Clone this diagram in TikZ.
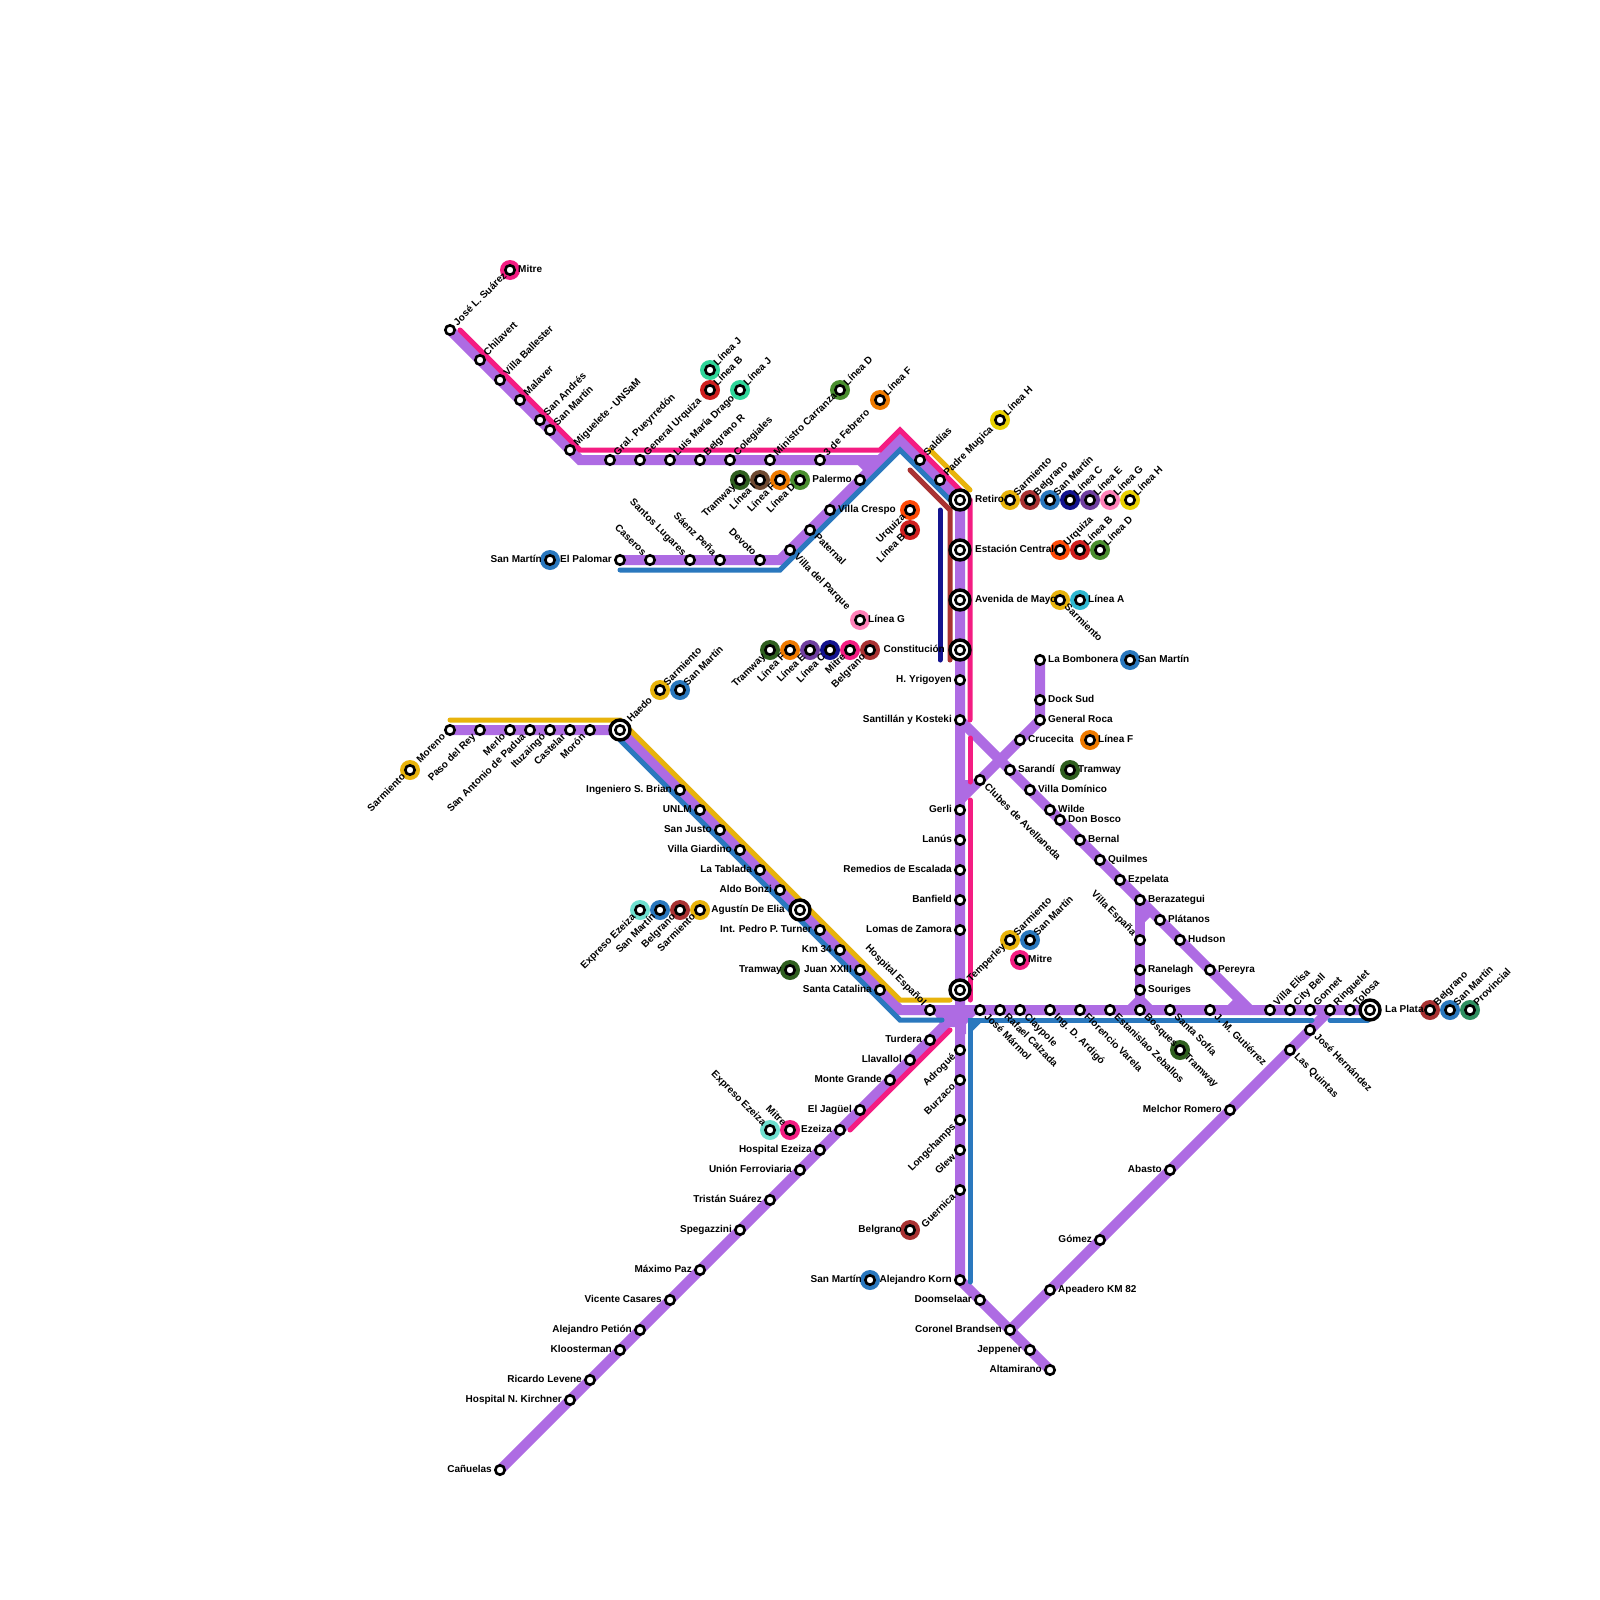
\documentclass[tikz,border=0pt]{standalone}
\usepackage{fontspec}
\setmainfont{Liberation Sans}
\usetikzlibrary{calc}
\definecolor{cPur}{HTML}{AE6BE3}
\definecolor{cPink}{HTML}{F41C82}
\definecolor{cBlue}{HTML}{2A78BE}
\definecolor{cYel}{HTML}{E8B30C}
\definecolor{cBel}{HTML}{A93232}
\definecolor{cNavy}{HTML}{14148F}
\definecolor{cJ}{HTML}{2FD69A}
\definecolor{cB}{HTML}{D01F1F}
\definecolor{cD}{HTML}{4A8F2F}
\definecolor{cF}{HTML}{EE7A00}
\definecolor{cH}{HTML}{E8D000}
\definecolor{cTr}{HTML}{2F5F1F}
\definecolor{cI}{HTML}{6F4A32}
\definecolor{cU}{HTML}{FF4A08}
\definecolor{cG}{HTML}{FF80B8}
\definecolor{cE}{HTML}{6F3FA0}
\definecolor{cA}{HTML}{30B8D0}
\definecolor{cX}{HTML}{6FE0D0}
\definecolor{cP}{HTML}{2F8F60}
\pgfdeclarelayer{lines}
\pgfdeclarelayer{discs}
\pgfdeclarelayer{labs}
\pgfsetlayers{lines,discs,labs,main}
\tikzset{
  stn/.style={circle,draw=black,fill=white,line width=2.6pt,minimum size=9.4pt,inner sep=0pt},
  big/.style={circle,draw=black,fill=white,line width=3.4pt,minimum size=20pt,inner sep=0pt},
  xd/.style={circle,fill=#1,minimum size=20pt,inner sep=0pt},
  lab/.style={inner sep=0pt,font=\fontsize{10}{12}\selectfont\bfseries,text height=7.2pt,text depth=2pt},
  R/.style={lab,anchor=west,xshift=8pt},
  L/.style={lab,anchor=east,xshift=-8pt},
  NE/.style={lab,anchor=west,rotate=45,xshift=8pt},
  SW/.style={lab,anchor=east,rotate=45,xshift=-8pt},
  SE/.style={lab,anchor=west,rotate=-45,xshift=8pt},
  NW/.style={lab,anchor=east,rotate=-45,xshift=-8pt},
  BR/.style={lab,anchor=west,xshift=15pt},
  BL/.style={lab,anchor=east,xshift=-15pt},
  BNE/.style={lab,anchor=west,rotate=45,xshift=13pt},
  thick line/.style={line width=10pt,cPur,line join=miter,line cap=round},
  thin line/.style={line width=5pt,line join=miter,line cap=round},
}
% station: name, x, y, label style, text
\newcommand{\St}[5]{\node[stn] (#1) at (#2,#3) {};\begin{pgfonlayer}{labs}\node[#4] (#1-t) at (#2,#3) {#5};\end{pgfonlayer}}
% big station
\newcommand{\Bg}[5]{\node[big] (#1-o) at (#2,#3) {};\node[stn] (#1) at (#2,#3) {};\begin{pgfonlayer}{labs}\node[#4] (#1-t) at (#2,#3) {#5};\end{pgfonlayer}}
% interchange: colour, name, x, y, label style, text
\newcommand{\Xc}[6]{\begin{pgfonlayer}{discs}\node[xd=#1] (#2-d) at (#3,#4) {};\end{pgfonlayer}\node[stn] (#2) at (#3,#4) {};\begin{pgfonlayer}{labs}\node[#5] (#2-t) at (#3,#4) {#6};\end{pgfonlayer}}
\begin{document}
\begin{tikzpicture}[x=1pt,y=-1pt]
\useasboundingbox (0,0) rectangle (1600,1600);
\begin{pgfonlayer}{lines}
\fill[white] (0,0) rectangle (1600,1600);
\end{pgfonlayer}
% --- north-west
\St{suarez}{450}{330}{NE}{José L. Suárez}
\St{chila}{480}{360}{NE}{Chilavert}
\St{balle}{500}{380}{NE}{Villa Ballester}
\St{malav}{520}{400}{NE}{Malaver}
\St{sandr}{540}{420}{NE}{San Andrés}
\St{smart}{550}{430}{NE}{San Martín}
\St{migue}{570}{450}{NE}{Miguelete - UNSaM}
\St{pueyr}{610}{460}{NE}{Gral. Pueyrredón}
\St{urqz}{640}{460}{NE}{General Urquiza}
\St{drago}{670}{460}{NE}{Luis María Drago}
\St{belr}{700}{460}{NE}{Belgrano R}
\St{coleg}{730}{460}{NE}{Colegiales}
\St{carr}{770}{460}{NE}{Ministro Carranza}
\St{feb}{820}{460}{NE}{3 de Febrero}
\St{saldi}{920}{460}{NE}{Saldías}
\St{mugi}{940}{480}{NE}{Padre Mugica}
\Xc{cPink}{xmit1}{510}{270}{R}{Mitre}
\Xc{cJ}{xj1}{710}{370}{NE}{Línea J}
\Xc{cB}{xb1}{710}{390}{NE}{Línea B}
\Xc{cJ}{xj2}{740}{390}{NE}{Línea J}
\Xc{cD}{xd1}{840}{390}{NE}{Línea D}
\Xc{cF}{xf1}{880}{400}{NE}{Línea F}
\Xc{cH}{xh1}{1000}{420}{NE}{Línea H}
\Xc{cTr}{xt1}{740}{480}{SW}{Tramway}
\Xc{cI}{xi1}{760}{480}{SW}{Línea I}
\Xc{cF}{xf2}{780}{480}{SW}{Línea F}
\Xc{cD}{xd2}{800}{480}{SW}{Línea D}
\St{paler}{860}{480}{L}{Palermo}
\St{cresp}{830}{510}{R}{Villa Crespo}
\St{pater}{810}{530}{SE}{Paternal}
\St{vparq}{790}{550}{SE}{Villa del Parque}
\St{devot}{760}{560}{NW}{Devoto}
\St{saenz}{720}{560}{NW}{Sáenz Peña}
\St{santl}{690}{560}{NW}{Santos Lugares}
\St{caser}{650}{560}{NW}{Caseros}
\St{palom}{620}{560}{L}{El Palomar}
\Xc{cBlue}{xsm1}{550}{560}{L}{San Martín}
\Xc{cU}{xu1}{910}{510}{SW}{Urquiza}
\Xc{cB}{xb2}{910}{530}{SW}{Línea B}
% --- central
\Bg{retiro}{960}{500}{BR}{Retiro}
\Xc{cYel}{xs1}{1010}{500}{NE}{Sarmiento}
\Xc{cBel}{xbe1}{1030}{500}{NE}{Belgrano}
\Xc{cBlue}{xsm2}{1050}{500}{NE}{San Martín}
\Xc{cNavy}{xc1}{1070}{500}{NE}{Línea C}
\Xc{cE}{xe1}{1090}{500}{NE}{Línea E}
\Xc{cG}{xg1}{1110}{500}{NE}{Línea G}
\Xc{cH}{xh2}{1130}{500}{NE}{Línea H}
\Bg{centr}{960}{550}{BR}{Estación Central}
\Xc{cU}{xu2}{1060}{550}{NE}{Urquiza}
\Xc{cB}{xb3}{1080}{550}{NE}{Línea B}
\Xc{cD}{xd3}{1100}{550}{NE}{Línea D}
\Bg{mayo}{960}{600}{BR}{Avenida de Mayo}
\Xc{cYel}{xs2}{1060}{600}{SE}{Sarmiento}
\Xc{cA}{xa1}{1080}{600}{R}{Línea A}
\Xc{cG}{xg2}{860}{620}{R}{Línea G}
\Bg{const}{960}{650}{BL}{Constitución}
\Xc{cTr}{xt2}{770}{650}{SW}{Tramway}
\Xc{cF}{xf3}{790}{650}{SW}{Línea F}
\Xc{cE}{xe2}{810}{650}{SW}{Línea E}
\Xc{cNavy}{xc2}{830}{650}{SW}{Línea C}
\Xc{cPink}{xmit2}{850}{650}{SW}{Mitre}
\Xc{cBel}{xbe2}{870}{650}{SW}{Belgrano}
\St{yrig}{960}{680}{L}{H. Yrigoyen}
\St{kost}{960}{720}{L}{Santillán y Kosteki}
\St{gerli}{960}{810}{L}{Gerli}
\St{lanus}{960}{840}{L}{Lanús}
\St{remed}{960}{870}{L}{Remedios de Escalada}
\St{banf}{960}{900}{L}{Banfield}
\St{lomas}{960}{930}{L}{Lomas de Zamora}
\Bg{temp}{960}{990}{BNE}{Temperley}
\Xc{cYel}{xs3}{1010}{940}{NE}{Sarmiento}
\Xc{cBlue}{xsm3}{1030}{940}{NE}{San Martín}
\Xc{cPink}{xmit3}{1020}{960}{R}{Mitre}
% --- south-east diagonal
\St{bomb}{1040}{660}{R}{La Bombonera}
\Xc{cBlue}{xsm4}{1130}{660}{R}{San Martín}
\St{dock}{1040}{700}{R}{Dock Sud}
\St{roca}{1040}{720}{R}{General Roca}
\St{cruc}{1020}{740}{R}{Crucecita}
\Xc{cF}{xf4}{1090}{740}{R}{Línea F}
\St{saran}{1010}{770}{R}{Sarandí}
\Xc{cTr}{xt3}{1070}{770}{R}{Tramway}
\St{clube}{980}{780}{SE}{Clubes de Avellaneda}
\St{domin}{1030}{790}{R}{Villa Domínico}
\St{wilde}{1050}{810}{R}{Wilde}
\St{bosco}{1060}{820}{R}{Don Bosco}
\St{bernal}{1080}{840}{R}{Bernal}
\St{quilm}{1100}{860}{R}{Quilmes}
\St{ezpel}{1120}{880}{R}{Ezpelata}
\St{beraz}{1140}{900}{R}{Berazategui}
\St{plata}{1160}{920}{R}{Plátanos}
\St{hudso}{1180}{940}{R}{Hudson}
\St{perey}{1210}{970}{R}{Pereyra}
\St{vesp}{1140}{940}{NW}{Villa España}
\St{ranel}{1140}{970}{R}{Ranelagh}
\St{souri}{1140}{990}{R}{Souriges}
% --- y=1010 row
\St{hesp}{930}{1010}{NW}{Hospital Español}
\St{marm}{980}{1010}{SE}{José Mármol}
\St{calz}{1000}{1010}{SE}{Rafael Calzada}
\St{clayp}{1020}{1010}{SE}{Claypole}
\St{ardig}{1050}{1010}{SE}{Ing. D. Ardigó}
\St{varel}{1080}{1010}{SE}{Florencio Varela}
\St{zebal}{1110}{1010}{SE}{Estanislao Zeballos}
\St{bosq}{1140}{1010}{SE}{Bosques}
\St{sofia}{1170}{1010}{SE}{Santa Sofía}
\St{gutie}{1210}{1010}{SE}{J. M. Gutiérrez}
\St{elisa}{1270}{1010}{NE}{Villa Elisa}
\St{city}{1290}{1010}{NE}{City Bell}
\St{gonn}{1310}{1010}{NE}{Gonnet}
\St{ringu}{1330}{1010}{NE}{Ringuelet}
\St{tolos}{1350}{1010}{NE}{Tolosa}
\Bg{lplat}{1370}{1010}{BR}{La Plata}
\Xc{cBel}{xbe3}{1430}{1010}{NE}{Belgrano}
\Xc{cBlue}{xsm5}{1450}{1010}{NE}{San Martín}
\Xc{cP}{xp1}{1470}{1010}{NE}{Provincial}
\Xc{cTr}{xt4}{1180}{1050}{SE}{Tramway}
\St{herna}{1310}{1030}{SE}{José Hernández}
\St{quint}{1290}{1050}{SE}{Las Quintas}
\St{melch}{1230}{1110}{L}{Melchor Romero}
\St{abast}{1170}{1170}{L}{Abasto}
\St{gomez}{1100}{1240}{L}{Gómez}
\St{apead}{1050}{1290}{R}{Apeadero KM 82}
\St{brand}{1010}{1330}{L}{Coronel Brandsen}
\St{jepp}{1030}{1350}{L}{Jeppener}
\St{altam}{1050}{1370}{L}{Altamirano}
\St{dooms}{980}{1300}{L}{Doomselaar}
\St{korn}{960}{1280}{L}{Alejandro Korn}
\Xc{cBlue}{xsm6}{870}{1280}{L}{San Martín}
\Xc{cBel}{xbe4}{910}{1230}{L}{Belgrano}
\St{guern}{960}{1190}{SW}{Guernica}
\St{glew}{960}{1150}{SW}{Glew}
\St{longc}{960}{1120}{SW}{Longchamps}
\St{burza}{960}{1080}{SW}{Burzaco}
\St{adrog}{960}{1050}{SW}{Adrogué}
% --- south-west diagonal
\St{turd}{930}{1040}{L}{Turdera}
\St{llav}{910}{1060}{L}{Llavallol}
\St{mgran}{890}{1080}{L}{Monte Grande}
\St{jague}{860}{1110}{L}{El Jagüel}
\St{ezeiz}{840}{1130}{L}{Ezeiza}
\Xc{cPink}{xmit4}{790}{1130}{NW}{Mitre}
\Xc{cX}{xx1}{770}{1130}{NW}{Expreso Ezeiza}
\St{hezei}{820}{1150}{L}{Hospital Ezeiza}
\St{unio}{800}{1170}{L}{Unión Ferroviaria}
\St{trist}{770}{1200}{L}{Tristán Suárez}
\St{spega}{740}{1230}{L}{Spegazzini}
\St{maxim}{700}{1270}{L}{Máximo Paz}
\St{vicen}{670}{1300}{L}{Vicente Casares}
\St{petio}{640}{1330}{L}{Alejandro Petión}
\St{kloos}{620}{1350}{L}{Kloosterman}
\St{leven}{590}{1380}{L}{Ricardo Levene}
\St{kirch}{570}{1400}{L}{Hospital N. Kirchner}
\St{canue}{500}{1470}{L}{Cañuelas}
% --- west
\St{moren}{450}{730}{SW}{Moreno}
\St{prey}{480}{730}{SW}{Paso del Rey}
\St{merlo}{510}{730}{SW}{Merlo}
\St{padua}{530}{730}{SW}{San Antonio de Padua}
\St{ituz}{550}{730}{SW}{Ituzaingó}
\St{caste}{570}{730}{SW}{Castelar}
\St{moron}{590}{730}{SW}{Morón}
\Bg{haedo}{620}{730}{BNE}{Haedo}
\Xc{cYel}{xs4}{410}{770}{SW}{Sarmiento}
\Xc{cYel}{xs5}{660}{690}{NE}{Sarmiento}
\Xc{cBlue}{xsm7}{680}{690}{NE}{San Martín}
\St{brian}{680}{790}{L}{Ingeniero S. Brian}
\St{unlm}{700}{810}{L}{UNLM}
\St{justo}{720}{830}{L}{San Justo}
\St{giard}{740}{850}{L}{Villa Giardino}
\St{tabla}{760}{870}{L}{La Tablada}
\St{bonzi}{780}{890}{L}{Aldo Bonzi}
\Bg{elia}{800}{910}{BL}{Agustín De Elia}
\St{turne}{820}{930}{L}{Int. Pedro P. Turner}
\St{km}{840}{950}{L}{Km 34}
\St{juan}{860}{970}{L}{Juan XXIII}
\St{cata}{880}{990}{L}{Santa Catalina}
\Xc{cTr}{xt5}{790}{970}{L}{Tramway}
\Xc{cX}{xx2}{640}{910}{SW}{Expreso Ezeiza}
\Xc{cBlue}{xsm8}{660}{910}{SW}{San Martín}
\Xc{cBel}{xbe5}{680}{910}{SW}{Belgrano}
\Xc{cYel}{xs6}{700}{910}{SW}{Sarmiento}
% --- free line ends and bends
\coordinate (a1) at (580,460);
\coordinate (a2) at (880,460);
\coordinate (a3) at (900,440);
\coordinate (a4) at (780,560);
\coordinate (a5) at (900,1010);
\coordinate (a6) at (1140,1010);
\begin{pgfonlayer}{lines}
% purple
\draw[thick line] (suarez.center) -- (a1) -- (a2) -- (a3) -- (retiro.center) -- (korn.center) -- (altam.center);
\draw[thick line] (palom.center) -- (a4) -- (a2);
\draw[thick line] (moren.center) -- (haedo.center) -- (a5) -- (lplat.center);
\draw[thick line] (canue.center) -- (960,1010);
\draw[thick line] (bomb.center) -- (roca.center) -- (960,800);
\draw[thick line] (kost.center) -- (1250,1010);
\draw[thick line] (beraz.center) -- (a6);
\draw[thick line] (brand.center) -- (ringu.center);
% purple flares at junctions
\draw[thick line,line cap=butt] (1140,1000)--(1130,1010) (1140,1000)--(1150,1010) (1140,920)--(1150,910) (1240,1000)--(1230,1010) (860,460)--(870,470);
\fill[cPur] (965,780)--(975,780)--(965,792)--cycle;
\fill[cPur] (948,1005)--(975,1005)--(975,1015)--(966,1024)--(966,1034)--(955,1034)--(955,1027)--(942,1027)--(935,1015)--cycle;
% pink
\draw[thin line,cPink] (460,330) -- (580,450) -- (880,450) -- (900,430) -- (970,500) -- (970,720);
\draw[thin line,cPink] (970,738) -- (970,782);
\draw[thin line,cPink] (970,800) -- (970,1000);
\draw[thin line,cPink] (950,1030) -- (850,1130);
% blue
\draw[thin line,cBlue] (620,570) -- (780,570) -- (900,450) -- (950,500);
\draw[thin line,cBlue] (620,740) -- (900,1020) -- (942,1020);
\draw[thin line,cBlue] (970,1282) -- (970,1020) -- (1312,1020);
\draw[thin line,cBlue,line cap=butt] (970,1030) -- (980,1020);
\draw[thin line,cBlue] (1330,1020) -- (1368,1020);
% yellow
\draw[thin line,cYel] (930,450) -- (970,490);
\draw[thin line,cYel] (450,720) -- (620,720) -- (900,1000) -- (950,1000);
% belgrano, navy
\draw[thin line,cBel] (910,470) -- (950,510) -- (950,660);
\draw[thin line,cNavy] (940,510) -- (940,660);
\end{pgfonlayer}
\end{tikzpicture}
\end{document}
